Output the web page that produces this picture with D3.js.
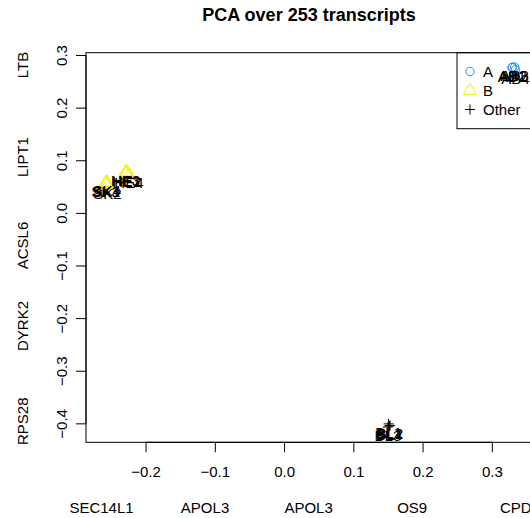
<!DOCTYPE html>
<html>
<head>
<meta charset="utf-8">
<script src="https://cdn.jsdelivr.net/npm/d3@7"></script>
<style>
  body { margin: 0; background: #fff; }
  svg { font-family: "Liberation Sans", Arial, sans-serif; }
</style>
</head>
<body>
<div id="wrapper"></div>
<script>
// samples (PC1, PC2)
const groups = ["A", "B", "Other"];
const sampleNames = ["AB1", "AB2", "AB3", "AB4", "HE1", "HE2", "HE3", "HE4",
                     "SK1", "SK2", "SK3", "SK4", "BL1", "BL2", "BL3", "BL4"];
const sampleGroup = ["A", "A", "A", "A", "B", "B", "B", "B",
                     "B", "B", "B", "B", "Other", "Other", "Other", "Other"];
const pc1 = [0.329, 0.330, 0.333, 0.334, -0.228, -0.227, -0.229, -0.224,
             -0.257, -0.255, -0.258, -0.256, 0.151, 0.153, 0.150, 0.152];
const pc2 = [0.276, 0.277, 0.277, 0.272, 0.078, 0.076, 0.077, 0.073,
             0.057, 0.053, 0.056, 0.058, -0.401, -0.404, -0.407, -0.405];

const xTicks = [-0.2, -0.1, 0.0, 0.1, 0.2, 0.3];
const yTicks = [0.3, 0.2, 0.1, 0.0, -0.1, -0.2, -0.3, -0.4];

// gene names along the axes, with their positions in PC units
const xGenes = ["SEC14L1", "APOL3", "APOL3", "OS9", "CPD"];
const xGeneAt = [-0.2636, -0.1141, 0.0354, 0.185, 0.3345];
const yGenes = ["LTB", "LIPT1", "ACSL6", "DYRK2", "RPS28"];
const yGeneAt = [0.281, 0.106, -0.062, -0.215, -0.396];

const title = "PCA over 253 transcripts";

function buildPlot() {
    const width = 530, height = 518;
    const plot = { left: 86, right: 532, top: 52.7, bottom: 442.3 };

    const colour = d3.scaleOrdinal().domain(groups).range(["#1E90FF", "#F2F200", "#000"]);
    const shape = d3.scaleOrdinal().domain(groups)
        .range([d3.symbolCircle, d3.symbolTriangle, d3.symbolCross]);

    const svg = d3.select("#wrapper").append("svg")
        .attr("width", width)
        .attr("height", height);

    const x = d3.scaleLinear().domain([-0.286, 0.358]).range([plot.left, plot.right]);
    const y = d3.scaleLinear().domain([0.3044, -0.436]).range([plot.top, plot.bottom]);

    const fmt = d3.format(".1f");

    // x axis
    const gx = svg.append("g")
        .attr("transform", `translate(0,${plot.bottom})`)
        .call(d3.axisBottom(x).tickValues(xTicks).tickFormat(fmt).tickSize(10).tickPadding(0));
    gx.select(".domain").remove();
    gx.selectAll("text").attr("y", 35).attr("dy", 0).style("font-size", "15px");
    gx.append("line")
        .attr("x1", x(xTicks[0])).attr("x2", x(xTicks[xTicks.length - 1]))
        .attr("stroke", "#000");

    // y axis
    const gy = svg.append("g")
        .attr("transform", `translate(${plot.left},0)`)
        .call(d3.axisLeft(y).tickValues(yTicks).tickFormat(fmt).tickSize(10));
    gy.select(".domain").remove();
    gy.selectAll("text")
        .attr("x", 0).attr("y", -19).attr("dy", 0)
        .attr("transform", "rotate(-90)")
        .attr("text-anchor", "middle")
        .style("font-size", "15px");
    gy.append("line")
        .attr("y1", y(yTicks[0])).attr("y2", y(yTicks[yTicks.length - 1]))
        .attr("stroke", "#000");
    svg.selectAll(".tick text").attr("fill", "#000");
    svg.selectAll(".tick line").attr("stroke", "#000");

    // box
    svg.append("rect")
        .attr("x", plot.left).attr("y", plot.top)
        .attr("width", plot.right - plot.left).attr("height", plot.bottom - plot.top)
        .attr("fill", "none").attr("stroke", "#000");

    // gene names
    svg.append("g").selectAll("text").data(xGenes).join("text")
        .attr("x", (d, i) => x(xGeneAt[i]))
        .attr("y", 513)
        .attr("text-anchor", "middle")
        .style("font-size", "15px")
        .text(d => d);
    svg.append("g").selectAll("text").data(yGenes).join("text")
        .attr("transform", (d, i) => `translate(28,${y(yGeneAt[i])}) rotate(-90)`)
        .attr("text-anchor", "middle")
        .style("font-size", "15px")
        .text(d => d);

    // title
    svg.append("text")
        .attr("x", (plot.left + plot.right) / 2)
        .attr("y", 21)
        .attr("text-anchor", "middle")
        .style("font-size", "18px")
        .style("font-weight", "bold")
        .text(title);

    const samples = sampleNames.map((n, i) => ({ name: n, group: sampleGroup[i], x: pc1[i], y: pc2[i] }));

    const sym = g => d3.symbol().type(shape(g)).size(g === "B" ? 75 : 55)();
    const cross = "M-5,0H5M0,-5V5";

    // legend (transparent, drawn first so the points stay visible over it)
    const leg = svg.append("g");
    leg.append("rect")
        .attr("x", 457).attr("y", plot.top)
        .attr("width", 90).attr("height", 76)
        .attr("fill", "none").attr("stroke", "#000");
    groups.forEach((g, i) => {
        const cy = 71.5 + i * 19;
        leg.append("path")
            .attr("transform", `translate(470,${cy})`)
            .attr("d", g === "Other" ? cross : sym(g))
            .attr("fill", "none")
            .attr("stroke", colour(g));
        leg.append("text")
            .attr("x", 483).attr("y", cy + 5.5)
            .style("font-size", "15px")
            .text(g);
    });

    svg.append("g").selectAll("path").data(samples).join("path")
        .attr("transform", d => `translate(${x(d.x)},${y(d.y)})`)
        .attr("d", d => d.group === "Other" ? cross : sym(d.group))
        .attr("fill", "none")
        .attr("stroke", d => colour(d.group))
        .attr("stroke-width", 1);

    svg.append("g").selectAll("text").data(samples).join("text")
        .attr("x", d => x(d.x))
        .attr("y", d => y(d.y) + 14)
        .attr("text-anchor", "middle")
        .style("font-size", "15px")
        .text(d => d.name);
}

buildPlot();
</script>
</body>
</html>
